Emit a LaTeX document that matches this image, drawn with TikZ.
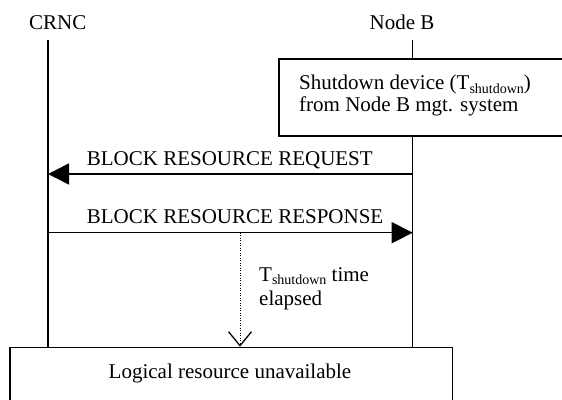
\documentclass[tikz,border=0pt]{standalone}
\usepackage{fontspec}
\setmainfont{Liberation Serif}
\usetikzlibrary{arrows.meta}
\newcommand{\tsubsd}{T\smash{\raisebox{-0.15em}{\fontsize{14}{14}\selectfont shutdown}}}
\begin{document}
\begin{tikzpicture}[x=1pt,y=-1pt,
  font=\fontsize{21}{21}\selectfont,
  lifeline/.style={line width=1.5pt},
  msg/.style={line width=1.5pt, -{Triangle[length=21pt,width=21pt]}},
  box/.style={draw, line width=1.5pt, inner sep=0pt},
  lbl/.style={inner sep=0pt, anchor=base west}]
\path[use as bounding box, clip] (0,0) rectangle (562,399);
\node[inner sep=0pt, anchor=base] (crnc) at (57.8,29.3) {CRNC};
\node[inner sep=0pt, anchor=base] (nodeb) at (402,29.3) {Node B};
\coordinate (ctop) at (48,40);
\coordinate (ntop) at (412.7,40);
\node[box, anchor=north west, minimum width=310pt, minimum height=77pt] (sd) at (278.3,58) {};
\node[lbl] (sdtext) at (299,111) {\begin{tabular}[b]{@{}l@{}}Shutdown device (\tsubsd)\\from Node B mgt. system\end{tabular}};
\node[box, anchor=north west, minimum width=442.4pt, minimum height=70pt] (lr) at (9.3,346.7) {};
\node[inner sep=0pt, anchor=base] (lrtext) at (230,378) {Logical resource unavailable};
\draw[lifeline] (ctop) -- (ctop |- lr.north);
\draw[lifeline] (ntop) -- (ntop |- sd.north);
\draw[lifeline] (ntop |- sd.south) -- (ntop |- lr.north);
\coordinate (req) at (0,174);
\coordinate (rsp) at (0,232.7);
\draw[msg] (ntop |- req) -- (ctop |- req);
\node[lbl] (reqlbl) at (86.7,165.7) {BLOCK RESOURCE REQUEST};
\draw[msg] (ctop |- rsp) -- (ntop |- rsp);
\node[lbl] (rsplbl) at (86.7,223) {BLOCK RESOURCE RESPONSE};
\coordinate (dt) at (240,232.7);
\draw[line width=0.9pt, dash pattern=on 1pt off 1.5pt, -{Straight Barb[length=14pt,width=23pt,line width=1.3pt]}] (dt) -- (dt |- lr.north);
\node[lbl, font=\fontsize{21}{23.3}\selectfont] (tlbl) at (259,305) {\begin{tabular}[b]{@{}l@{}}\tsubsd{} time\\elapsed\end{tabular}};
\end{tikzpicture}
\end{document}
